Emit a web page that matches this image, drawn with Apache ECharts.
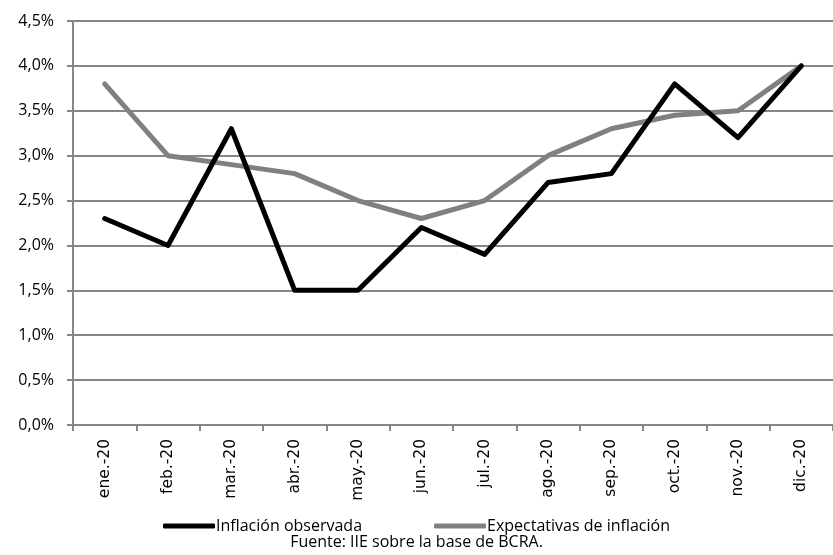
<!DOCTYPE html>
<html>
<head>
<meta charset="utf-8">
<script src="https://cdn.jsdelivr.net/npm/echarts@6/dist/echarts.min.js"></script>
<style>
  html, body { margin: 0; padding: 0; background: #fff; }
  #chart { width: 833px; height: 555px; }
</style>
</head>
<body>
<div id="chart"></div>
<script>
// Meses de 2020
const categories = ['ene.-20', 'feb.-20', 'mar.-20', 'abr.-20', 'may.-20', 'jun.-20',
                    'jul.-20', 'ago.-20', 'sep.-20', 'oct.-20', 'nov.-20', 'dic.-20'];
// Inflación mensual observada (%)
const inflacionObservada = [2.3, 2.0, 3.3, 1.5, 1.5, 2.2, 1.9, 2.7, 2.8, 3.8, 3.2, 4.0];
// Expectativas de inflación mensual (%)
const expectativas = [3.8, 3.0, 2.9, 2.8, 2.5, 2.3, 2.5, 3.0, 3.3, 3.45, 3.5, 4.0];
// Rango del eje vertical
const yMin = 0, yMax = 4.5, yStep = 0.5;

const narrowFont = '"Open Sans", sans-serif';
const chart = echarts.init(document.getElementById('chart'), null, { renderer: 'canvas' });

chart.setOption({
  animation: false,
  backgroundColor: '#ffffff',
  grid: { left: 73, right: -1, top: 21, bottom: 130, containLabel: false },
  legend: {
    top: 513,
    left: 'center',
    itemWidth: 52,
    itemHeight: 5,
    itemGap: 72,
    icon: 'roundRect',
    textStyle: { fontFamily: narrowFont, fontSize: 16, color: '#000', padding: [0, 0, 0, -4] },
    data: ['Inflación observada', 'Expectativas de inflación']
  },
  graphic: [{
    type: 'text',
    left: 'center',
    top: 534,
    style: { text: 'Fuente: IIE sobre la base de BCRA.', font: '16px "Open Sans", sans-serif', fill: '#000' }
  }],
  xAxis: {
    type: 'category',
    data: categories,
    boundaryGap: true,
    axisLine: { lineStyle: { color: '#868686', width: 2 } },
    axisTick: { show: true, alignWithLabel: false, length: 6, lineStyle: { color: '#868686', width: 2 } },
    axisLabel: { rotate: 90, fontFamily: '"DejaVu Sans", sans-serif', fontSize: 15.5, color: '#000', margin: 14 }
  },
  yAxis: {
    type: 'value',
    min: yMin,
    max: yMax,
    interval: yStep,
    axisLine: { show: true, lineStyle: { color: '#868686', width: 2 } },
    axisTick: { show: true, length: 6, lineStyle: { color: '#868686', width: 2 } },
    splitLine: { lineStyle: { color: '#868686', width: 2 } },
    axisLabel: {
      fontFamily: narrowFont, fontSize: 16, color: '#000', margin: 19,
      formatter: v => v.toFixed(1).replace('.', ',') + '%'
    }
  },
  series: [
    {
      name: 'Inflación observada',
      type: 'line',
      data: inflacionObservada,
      symbol: 'none',
      lineStyle: { color: '#000000', width: 5, cap: 'round', join: 'round' },
      itemStyle: { color: '#000000' },
      z: 3
    },
    {
      name: 'Expectativas de inflación',
      type: 'line',
      data: expectativas,
      symbol: 'none',
      lineStyle: { color: '#808080', width: 5, cap: 'round', join: 'round' },
      itemStyle: { color: '#808080' },
      z: 2
    }
  ]
});
</script>
</body>
</html>
